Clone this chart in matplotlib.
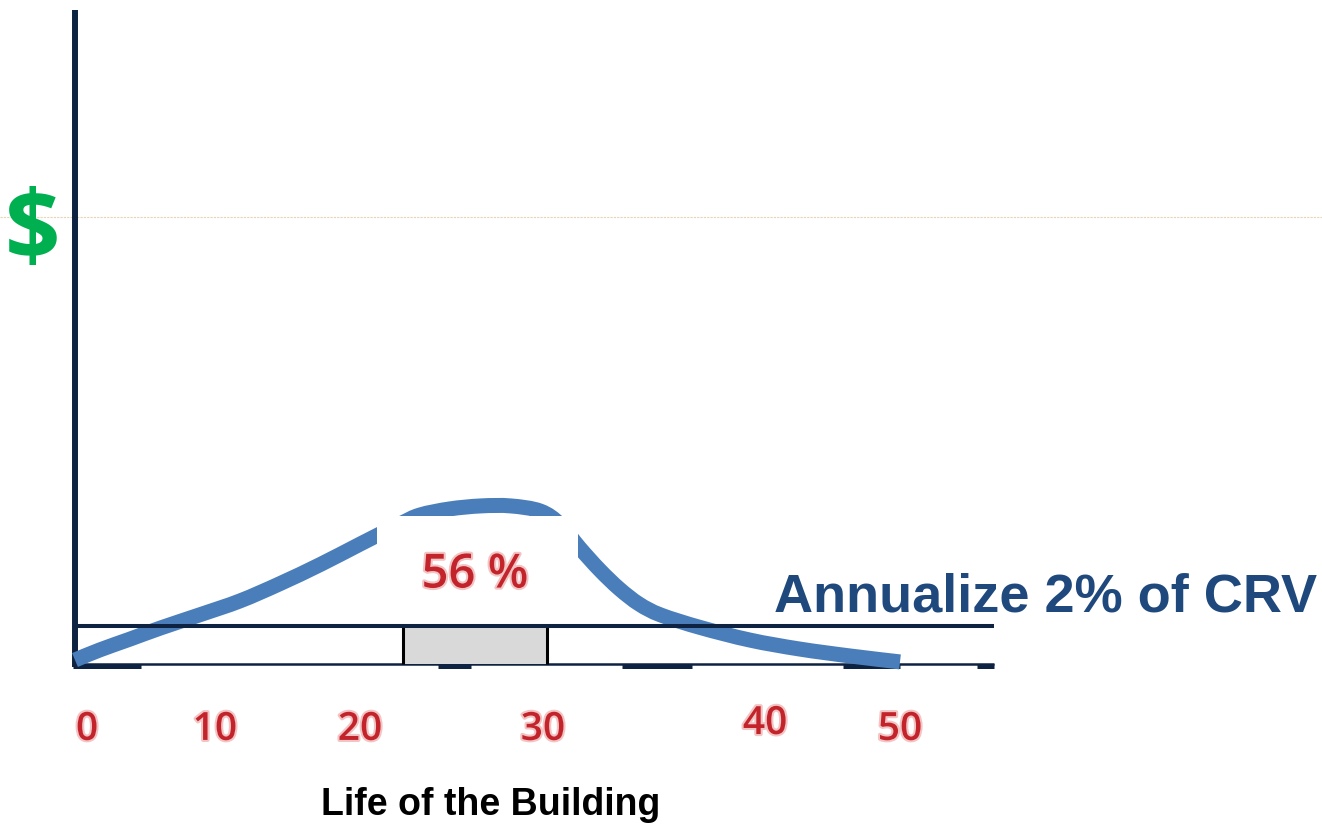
import matplotlib
matplotlib.use("Agg")
import matplotlib.pyplot as plt
import matplotlib.patheffects as pe
from matplotlib.patches import Rectangle, PathPatch
from matplotlib.path import Path

# Life of the building (years) vs annual spend (% of CRV)
years = [0, 1.5, 3.3, 5.2, 7.6, 10.0, 12.4, 14.9, 17.3, 19.7, 20.9, 22.7, 24.6,
         26.4, 28.2, 29.4, 30.6, 31.8, 33.0, 34.2, 35.5, 37.9, 40.9, 43.9, 47.0, 50.0]
spend = [0.21, 0.74, 1.3, 1.9, 2.6, 3.32, 4.22, 5.25, 6.32, 7.37, 7.84, 8.16, 8.32,
         8.32, 8.05, 7.35, 6.1, 4.95, 3.95, 3.15, 2.58, 1.92, 1.26, 0.79, 0.42, 0.11]

annual_rate = 2          # "Annualize 2% of CRV" level
peak_window = (19.9, 28.6)  # shaded span under the peak
peak_label = "56 %"
dollar_level = 23.5

tick_labels = ["0", "10", "20", "30", "40", "50"]
tick_pos = [0.73, 8.48, 17.27, 28.36, 41.82, 50.0]
tick_y = [-3.47, -3.47, -3.47, -3.47, -3.16, -3.47]

navy = "#0e2341"
blue = "#4a7ebb"
red = "#c3242b"

fig = plt.figure(figsize=(13.22, 8.27), dpi=100)
ax = fig.add_axes([0, 0, 1, 1])
ax.set_xlim(-4.545, 75.576)
ax.set_ylim(-8.579, 34.947)
ax.axis("off")

# faint dotted "$" level
ax.axhline(dollar_level, color="#e6d6b4", lw=0.8, ls=(0, (2, 1)), zorder=1)

# axes lines
ax.plot([0, 0], [-0.16, 34.42], color=navy, lw=4.3, solid_capstyle="butt", zorder=2)
ax.plot([0, 55.7], [0, 0], color=navy, lw=1.8, solid_capstyle="butt", zorder=2)
for a, b in [(-0.12, 4.0), (22.0, 24.0), (33.15, 37.4), (46.55, 50.0), (54.65, 55.7)]:
    ax.plot([a, b], [-0.08, -0.08], color=navy, lw=3.6, solid_capstyle="butt", zorder=2)

# shaded peak window
ax.add_patch(Rectangle((peak_window[0], 0), peak_window[1] - peak_window[0], annual_rate,
                       facecolor="#d9d9d9", edgecolor="none", zorder=2))
for xv in peak_window:
    ax.plot([xv, xv], [0, annual_rate], color="black", lw=2.2, solid_capstyle="butt", zorder=3)

# spend curve, drawn as a smooth bezier through the read points
pts = list(zip(years, spend))
verts = [pts[0]]
codes = [Path.MOVETO]
for i in range(len(pts) - 1):
    p0 = pts[i - 1] if i > 0 else pts[i]
    p1, p2 = pts[i], pts[i + 1]
    p3 = pts[i + 2] if i + 2 < len(pts) else p2
    c1 = (p1[0] + (p2[0] - p0[0]) / 6, p1[1] + (p2[1] - p0[1]) / 6)
    c2 = (p2[0] - (p3[0] - p1[0]) / 6, p2[1] - (p3[1] - p1[1]) / 6)
    verts += [c1, c2, p2]
    codes += [Path.CURVE4] * 3
ax.add_patch(PathPatch(Path(verts, codes), facecolor="none", edgecolor=blue,
                       lw=10.8, capstyle="butt", joinstyle="round", zorder=4))

# white label box over the peak
ax.add_patch(Rectangle((18.3, 2.05), 12.18, 5.74, facecolor="white",
                       edgecolor="none", zorder=5))

# annualized level line
ax.plot([0, 55.7], [annual_rate, annual_rate], color=navy, lw=2.9,
        solid_capstyle="butt", zorder=6)

glow = [pe.withStroke(linewidth=3, foreground="#f3c4c4")]
ax.text(24.24, 4.68, peak_label, color=red, fontsize=34, family="Open Sans",
        fontweight="semibold", ha="center", va="center", path_effects=glow, zorder=7)

for lab, xp, yp in zip(tick_labels, tick_pos, tick_y):
    ax.text(xp, yp, lab, color=red, fontsize=28, family="Open Sans",
            fontweight="semibold", ha="center", va="center", path_effects=glow)

ax.text(-2.55, 22.6, "$", color="#00b050", fontsize=70, family="Open Sans",
        fontweight="bold", ha="center", va="center")

ax.text(42.36, 2.74, "Annualize 2% of CRV", color="#1f497d", fontsize=39,
        family="Liberation Sans", fontweight="bold", ha="left", va="baseline")

ax.text(25.2, -7.95, "Life of the Building", color="black", fontsize=27,
        family="Liberation Sans", fontweight="bold", ha="center", va="baseline")

fig.savefig("out.png", dpi=100)
